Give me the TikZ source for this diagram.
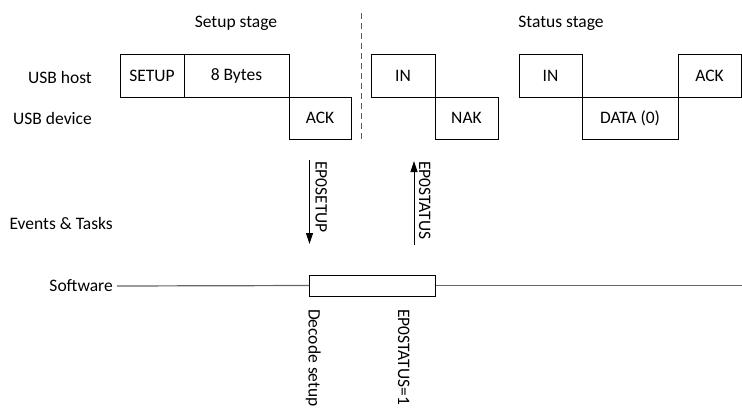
\documentclass[tikz,border=0pt]{standalone}
\usepackage{fontspec}
\setmainfont{Carlito}
\usetikzlibrary{arrows.meta}
\begin{document}
\begin{tikzpicture}[x=1pt,y=-1pt,
  every node/.style={font=\fontsize{17.5}{20}\selectfont, text=black},
  pkt/.style={draw=black, line width=0.9pt, inner sep=0pt, minimum height=43pt},
  lbl/.style={inner sep=0pt, anchor=east},
  rlbl/.style={inner sep=0pt, rotate=-90, anchor=base west},
  sig/.style={line width=0.9pt, -{Triangle[width=7pt,length=11pt]}},
  swline/.style={draw=black!60, line width=1.2pt}]
\useasboundingbox (0,0) rectangle (742,408);
% stage labels
\node (setupstage) at (236,23) {Setup stage};
\node (statusstage) at (561,23) {Status stage};
% row labels
\node[lbl] (host) at (92,77) {USB host};
\node[lbl] (device) at (92,118) {USB device};
\node[lbl] (events) at (113,223) {Events \& Tasks};
\node[lbl] (software) at (113,286) {Software};
% packets
\node[pkt, minimum width=64pt] (setup) at (152,75.5) {SETUP};
\node[pkt, minimum width=105pt] (bytes) at (236.5,75.5) {8 Bytes};
\node[pkt, minimum width=62pt, minimum height=42pt] (ack1) at (320,118) {ACK};
\node[pkt, minimum width=64pt] (in1) at (403,75.5) {IN};
\node[pkt, minimum width=63pt, minimum height=42pt] (nak) at (466.5,118) {NAK};
\node[pkt, minimum width=63pt] (in2) at (550.5,75.5) {IN};
\node[pkt, minimum width=96pt, minimum height=42pt] (data) at (630,118) {DATA (0)};
\node[pkt, minimum width=63pt] (ack2) at (709.5,75.5) {ACK};
% divider
\coordinate (dtop) at (361.7,13);
\coordinate (dbot) at (361.7,139);
\draw[draw=black!65, line width=1pt, dash pattern=on 6pt off 4pt] (dtop) -- (dbot);
% software line and box
\node[draw=black, line width=0.9pt, minimum width=126pt, minimum height=21pt, inner sep=0pt] (decode) at (372.5,285.5) {};
\coordinate (swend) at (742,285.5);
\draw[swline] (software.east) ++(4,0) coordinate (swstart);
\draw[swline] (swstart) -- (decode.west);
\draw[swline] (decode.east) -- (swend);
% events
\coordinate (es1) at (309.5,160);
\coordinate (es2) at (309.5,244);
\draw[sig] (es1) -- (es2);
\node[rlbl] (ep0setup) at (315.5,161) {EP0SETUP};
\coordinate (et1) at (414,245);
\coordinate (et2) at (414,161);
\draw[sig] (et1) -- (et2);
\node[rlbl] (ep0status) at (419,161) {EP0STATUS};
% task labels
\node[rlbl] (decodelbl) at (308.5,309) {Decode setup};
\node[rlbl] (ep0status1) at (398,309) {EP0STATUS=1};
\end{tikzpicture}
\end{document}
